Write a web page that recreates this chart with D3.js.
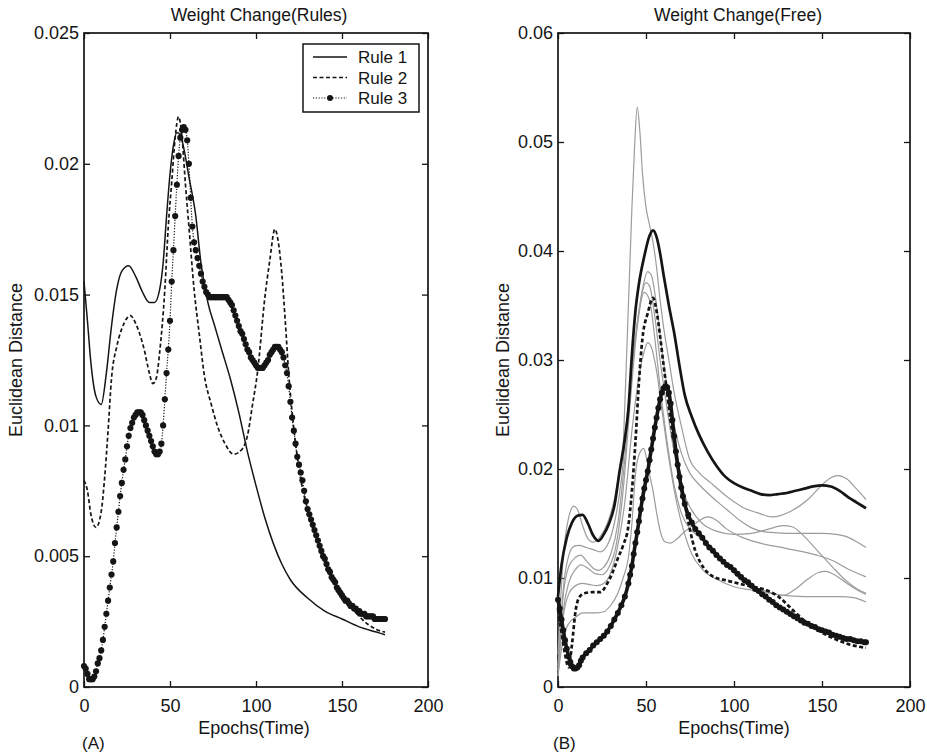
<!DOCTYPE html>
<html>
<head>
<meta charset="utf-8">
<script src="https://cdn.jsdelivr.net/npm/d3@7"></script>
<style>
  html, body { margin: 0; padding: 0; background: #ffffff; }
  svg { display: block; }
  text { font-family: "Liberation Sans", Arial, Helvetica, sans-serif; fill: #151515; }
</style>
</head>
<body>
<svg id="chart" width="927" height="753"></svg>
<script>
// ---------------- DATA ----------------
const xTicks = [0, 50, 100, 150, 200];
const xTickLabels = ["0", "50", "100", "150", "200"];
const leftYTicks = [0, 0.005, 0.01, 0.015, 0.02, 0.025];
const leftYTickLabels = ["0", "0.005", "0.01", "0.015", "0.02", "0.025"];
const rightYTicks = [0, 0.01, 0.02, 0.03, 0.04, 0.05, 0.06];
const rightYTickLabels = ["0", "0.01", "0.02", "0.03", "0.04", "0.05", "0.06"];
const legendLabels = ["Rule 1", "Rule 2", "Rule 3"];

// Panel A : [epoch, euclidean distance]
const rule1 = [[0,0.0155],[2,0.0140],[4,0.0124],[7,0.0111],[10,0.0108],[13,0.0120],[16,0.0138],[19,0.0152],[22,0.0159],[26,0.0161],[30,0.0157],[34,0.0151],[38,0.0147],[41,0.0147],[44,0.0152],[46,0.0162],[48,0.0180],[50,0.0196],[52,0.0207],[54,0.0212],[56,0.0211],[58,0.0206],[61,0.0195],[65,0.0180],[68,0.0162],[72,0.0147],[76,0.0138],[80,0.0129],[85,0.0118],[90,0.0105],[95,0.0090],[100,0.0077],[105,0.0065],[110,0.0055],[115,0.0047],[120,0.0041],[130,0.0034],[140,0.0029],[150,0.0026],[160,0.0023],[170,0.0021],[175,0.0020]];

const rule2 = [[0,0.0079],[2,0.0075],[4,0.0066],[7,0.0061],[10,0.0067],[12,0.0080],[14,0.0098],[16,0.0118],[19,0.0130],[22,0.0137],[25,0.0141],[27,0.0142],[30,0.0139],[35,0.0129],[38,0.0120],[40,0.0116],[42,0.0118],[44,0.0128],[47,0.0152],[49,0.0176],[51,0.0193],[53,0.0210],[55,0.0218],[57,0.0210],[59,0.0192],[61,0.0176],[64,0.0152],[67,0.0135],[70,0.0119],[74,0.0108],[78,0.0099],[82,0.0093],[87,0.0089],[92,0.0091],[95,0.0096],[98,0.0108],[101,0.0121],[105,0.0148],[108,0.0163],[111,0.0175],[113,0.0170],[115,0.0158],[117,0.0140],[119,0.0120],[121,0.0105],[124,0.0088],[127,0.0076],[130,0.0068],[135,0.0057],[140,0.0048],[145,0.0041],[150,0.0035],[155,0.0031],[160,0.0027],[165,0.0024],[170,0.0022],[175,0.0021]];

const rule3 = [[0,0.0008],[1,0.0007],[2,0.0005],[3,0.0003],[4,0.0003],[5,0.0003],[6,0.0004],[7,0.0006],[8,0.0009],[9,0.0011],[10,0.0014],[11,0.0018],[12,0.0023],[13,0.0028],[14,0.0033],[15,0.0038],[16,0.0043],[17,0.0048],[18,0.0055],[19,0.0061],[20,0.0067],[21,0.0073],[22,0.0078],[23,0.0083],[24,0.0087],[25,0.0092],[26,0.0096],[27,0.0099],[28,0.0101],[29,0.0103],[30,0.0104],[31,0.0105],[32,0.0105],[33,0.0105],[34,0.0104],[35,0.0102],[36,0.0100],[37,0.0098],[38,0.0096],[39,0.0094],[40,0.0092],[41,0.0090],[42,0.0089],[43,0.0089],[44,0.0090],[45,0.0093],[46,0.0100],[47,0.0110],[48,0.0120],[49,0.0129],[50,0.0140],[51,0.0155],[52,0.0167],[53,0.0180],[54,0.0192],[55,0.0203],[56,0.0210],[57,0.0213],[58,0.0214],[59,0.0213],[60,0.0209],[61,0.0200],[62,0.0187],[63,0.0176],[64,0.0170],[65,0.0167],[66,0.0164],[67,0.0161],[68,0.0158],[69,0.0155],[70,0.0153],[71,0.0151],[72,0.0150],[73,0.0149],[74,0.0149],[75,0.0149],[76,0.0149],[77,0.0149],[78,0.0149],[79,0.0149],[80,0.0149],[81,0.0149],[82,0.0149],[83,0.0149],[84,0.0148],[85,0.0147],[86,0.0146],[87,0.0144],[88,0.0142],[89,0.0140],[90,0.0138],[91,0.0136],[92,0.0135],[93,0.0133],[94,0.0131],[95,0.0129],[96,0.0128],[97,0.0126],[98,0.0125],[99,0.0124],[100,0.0123],[101,0.0122],[102,0.0122],[103,0.0122],[104,0.0122],[105,0.0123],[106,0.0124],[107,0.0125],[108,0.0127],[109,0.0128],[110,0.0129],[111,0.0130],[112,0.0130],[113,0.0130],[114,0.0129],[115,0.0128],[116,0.0126],[117,0.0123],[118,0.0120],[119,0.0115],[120,0.0109],[121,0.0103],[122,0.0098],[123,0.0093],[124,0.0088],[125,0.0085],[126,0.0082],[127,0.0079],[128,0.0075],[129,0.0071],[130,0.0068],[131,0.0066],[132,0.0064],[133,0.0062],[134,0.0060],[135,0.0058],[136,0.0056],[137,0.0054],[138,0.0052],[139,0.0050],[140,0.0049],[141,0.0047],[142,0.0045],[143,0.0044],[144,0.0042],[145,0.0041],[146,0.0040],[147,0.0038],[148,0.0037],[149,0.0036],[150,0.0035],[151,0.0034],[152,0.0033],[153,0.0033],[154,0.0032],[155,0.0031],[156,0.0031],[157,0.0030],[158,0.0030],[159,0.0029],[160,0.0029],[161,0.0028],[162,0.0028],[163,0.0028],[164,0.0027],[165,0.0027],[166,0.0027],[167,0.0027],[168,0.0027],[169,0.0026],[170,0.0026],[171,0.0026],[172,0.0026],[173,0.0026],[174,0.0026],[175,0.0026]];

// Panel B : thick highlighted runs
const freeSolid = [[0,0.0083],[2,0.0112],[5,0.0137],[8,0.0151],[11,0.0157],[14,0.0158],[17,0.0150],[20,0.0139],[23,0.0134],[26,0.0140],[29,0.0150],[32,0.0166],[35,0.0198],[38,0.0228],[40,0.0255],[42,0.0305],[44,0.0345],[46,0.0370],[49,0.0395],[52,0.0414],[54,0.0419],[56,0.0413],[58,0.0398],[60,0.0378],[63,0.0350],[66,0.0325],[69,0.0295],[72,0.0268],[76,0.0248],[80,0.0232],[85,0.0216],[90,0.0203],[95,0.0193],[100,0.0187],[105,0.0183],[110,0.0180],[115,0.0177],[120,0.0176],[125,0.0177],[130,0.0178],[135,0.0180],[140,0.0182],[145,0.0184],[150,0.0185],[155,0.0184],[160,0.0180],[165,0.0174],[170,0.0169],[175,0.0164]];

const freeDashed = [[0,0.0071],[2,0.0050],[4,0.0030],[6,0.0018],[8,0.0040],[10,0.0070],[12,0.0082],[15,0.0086],[20,0.0087],[24,0.0087],[28,0.0095],[31,0.0105],[34,0.0118],[37,0.0130],[40,0.0148],[42,0.0180],[44,0.0225],[46,0.0280],[48,0.0320],[51,0.0343],[54,0.0357],[56,0.0345],[58,0.0322],[60,0.0295],[62,0.0270],[64,0.0244],[66,0.0225],[68,0.0205],[70,0.0187],[73,0.0160],[75,0.0144],[78,0.0125],[81,0.0114],[85,0.0105],[90,0.0100],[95,0.0098],[100,0.0096],[105,0.0094],[111,0.0092],[116,0.0090],[121,0.0087],[126,0.0082],[130,0.0076],[135,0.0068],[140,0.0061],[145,0.0055],[150,0.0050],[156,0.0045],[162,0.0041],[168,0.0038],[175,0.0036]];

const freeDotted = [[0,0.0080],[1,0.0072],[2,0.0062],[3,0.0052],[4,0.0043],[5,0.0035],[6,0.0028],[7,0.0023],[8,0.0019],[9,0.0017],[10,0.0017],[11,0.0018],[12,0.0020],[13,0.0024],[14,0.0027],[16,0.0031],[18,0.0034],[20,0.0038],[22,0.0041],[24,0.0044],[26,0.0047],[28,0.0051],[30,0.0056],[32,0.0062],[34,0.0068],[36,0.0075],[38,0.0083],[40,0.0095],[41,0.0103],[42,0.0111],[43,0.0122],[44,0.0132],[45,0.0142],[46,0.0152],[47,0.0163],[48,0.0173],[49,0.0182],[50,0.0190],[51,0.0198],[52,0.0208],[53,0.0218],[54,0.0228],[55,0.0238],[56,0.0247],[57,0.0256],[58,0.0264],[59,0.0270],[60,0.0274],[61,0.0276],[62,0.0275],[63,0.0270],[64,0.0260],[65,0.0245],[66,0.0230],[67,0.0216],[68,0.0204],[69,0.0193],[70,0.0183],[71,0.0175],[72,0.0168],[74,0.0158],[76,0.0151],[78,0.0145],[80,0.0141],[82,0.0137],[84,0.0132],[86,0.0128],[88,0.0125],[90,0.0121],[92,0.0118],[94,0.0115],[96,0.0112],[98,0.0110],[100,0.0107],[102,0.0104],[104,0.0101],[106,0.0098],[108,0.0096],[110,0.0093],[112,0.0090],[114,0.0088],[116,0.0085],[118,0.0083],[120,0.0080],[122,0.0078],[124,0.0075],[126,0.0073],[128,0.0071],[130,0.0069],[132,0.0067],[134,0.0065],[136,0.0063],[138,0.0061],[140,0.0059],[142,0.0058],[144,0.0056],[146,0.0055],[148,0.0053],[150,0.0052],[152,0.0051],[154,0.0050],[156,0.0048],[158,0.0047],[160,0.0046],[162,0.0045],[164,0.0044],[166,0.0044],[168,0.0043],[170,0.0042],[172,0.0042],[174,0.0041],[175,0.0041]];

// Panel B : thin grey runs
const freeGreyA = [[0,0.0030],[3,0.0120],[6,0.0155],[9,0.0166],[11,0.0163],[14,0.0148],[17,0.0136],[20,0.0133],[24,0.0138],[28,0.0150],[32,0.0172],[35,0.0200],[37,0.0222],[38,0.0260],[40,0.0350],[42,0.0440],[43.5,0.0495],[45,0.0532],[46.5,0.0510],[48,0.0471],[50,0.0440],[52,0.0424],[54,0.0408],[56,0.0385],[58,0.0355],[60,0.0330],[63,0.0300],[66,0.0270],[70,0.0240],[75,0.0208],[80,0.0197],[87,0.0187],[95,0.0176],[100,0.0170],[106,0.0164],[113,0.0160],[122,0.0156],[132,0.0161],[142,0.0172],[151,0.0187],[155,0.0192],[159,0.0194],[164,0.0191],[170,0.0181],[175,0.0172]];
const freeGreyB = [[0,0.0015],[3,0.0090],[6,0.0120],[9,0.0129],[12,0.0130],[16,0.0128],[20,0.0126],[24,0.0124],[28,0.0130],[32,0.0150],[36,0.0190],[40,0.0260],[44,0.0320],[48,0.0365],[51,0.0381],[53,0.0378],[56,0.0350],[59,0.0310],[62,0.0275],[66,0.0240],[70,0.0215],[75,0.0196],[80,0.0186],[85,0.0178],[92,0.0168],[98,0.0160],[104,0.0152],[110,0.0146],[119,0.0142],[130,0.0141],[140,0.0141],[150,0.0141],[158,0.0140],[164,0.0138],[170,0.0133],[175,0.0128]];
const freeGreyC = [[0,0.0020],[3,0.0085],[6,0.0110],[10,0.0119],[13,0.0121],[16,0.0116],[20,0.0109],[23,0.0107],[26,0.0110],[30,0.0122],[34,0.0150],[38,0.0210],[42,0.0290],[46,0.0345],[50,0.0371],[52,0.0368],[55,0.0340],[58,0.0300],[62,0.0255],[66,0.0215],[70,0.0185],[75,0.0165],[82,0.0150],[90,0.0143],[100,0.0140],[110,0.0141],[120,0.0145],[128,0.0148],[133,0.0147],[140,0.0138],[148,0.0124],[156,0.0110],[164,0.0097],[170,0.0090],[175,0.0086]];
const freeGreyD = [[0,0.0010],[3,0.0070],[6,0.0095],[10,0.0108],[13,0.0112],[17,0.0109],[21,0.0104],[25,0.0103],[29,0.0110],[33,0.0130],[37,0.0180],[41,0.0260],[45,0.0330],[49,0.0362],[52,0.0355],[55,0.0320],[58,0.0275],[62,0.0225],[66,0.0185],[70,0.0160],[75,0.0145],[80,0.0138],[86,0.0130],[92,0.0120],[98,0.0108],[104,0.0098],[110,0.0092],[118,0.0088],[128,0.0084],[135,0.0090],[142,0.0099],[148,0.0105],[152,0.0106],[158,0.0102],[165,0.0094],[170,0.0089],[175,0.0085]];
const freeGreyE = [[0,0.0015],[3,0.0065],[6,0.0085],[10,0.0093],[14,0.0095],[18,0.0094],[22,0.0093],[26,0.0095],[30,0.0105],[34,0.0130],[38,0.0170],[42,0.0235],[46,0.0285],[49,0.0308],[51,0.0316],[53,0.0312],[56,0.0290],[59,0.0255],[62,0.0220],[65,0.0190],[68,0.0165],[72,0.0140],[76,0.0122],[82,0.0108],[90,0.0099],[100,0.0092],[110,0.0089],[120,0.0086],[128,0.0084],[140,0.0083],[150,0.0083],[160,0.0083],[168,0.0082],[175,0.0078]];
const freeGreyF = [[0,0.0010],[3,0.0045],[6,0.0058],[10,0.0064],[14,0.0068],[18,0.0068],[22,0.0068],[26,0.0069],[30,0.0075],[34,0.0086],[37,0.0100],[40,0.0119],[42,0.0150],[44,0.0195],[46,0.0213],[48.7,0.0219],[50,0.0212],[52,0.0195],[54,0.0180],[56,0.0160],[58.4,0.0141],[61,0.0133],[64,0.0132],[67,0.0135],[71,0.0141],[78,0.0150],[85,0.0156],[90,0.0153],[95,0.0146],[105,0.0137],[115,0.0132],[130,0.0127],[147,0.0121],[156,0.0116],[165,0.0108],[175,0.0101]];

// ---------------- DRAWING ----------------
const svg = d3.select("#chart");
const FONT = 18;
const INK = "#151515";

function panel(cfg) {
  const g = svg.append("g");
  const x = d3.scaleLinear().domain([0, 200]).range([cfg.left, cfg.right]);
  const y = d3.scaleLinear().domain([0, cfg.ymax]).range([cfg.bottom, cfg.top]);
  const tick = 6;

  const bottom = g.append("g").attr("transform", `translate(0,${cfg.bottom})`)
    .call(d3.axisBottom(x).tickValues(xTicks).tickFormat((d, i) => xTickLabels[i]).tickSize(-tick).tickSizeOuter(0).tickPadding(12));
  const top = g.append("g").attr("transform", `translate(0,${cfg.top})`)
    .call(d3.axisTop(x).tickValues(xTicks).tickFormat("").tickSize(-tick).tickSizeOuter(0));
  const left = g.append("g").attr("transform", `translate(${cfg.left},0)`)
    .call(d3.axisLeft(y).tickValues(cfg.yTicks).tickFormat((d, i) => cfg.yLabels[i]).tickSize(-tick).tickSizeOuter(0).tickPadding(5));
  const right = g.append("g").attr("transform", `translate(${cfg.right},0)`)
    .call(d3.axisRight(y).tickValues(cfg.yTicks).tickFormat("").tickSize(-tick).tickSizeOuter(0));
  [bottom, top, left, right].forEach(a => {
    a.select(".domain").remove();
    a.selectAll(".tick line").attr("stroke", INK).attr("stroke-width", 1.3);
    a.selectAll(".tick text").attr("font-size", FONT).attr("fill", INK)
      .style("font-family", '"Liberation Sans", Arial, sans-serif');
  });

  g.append("rect").attr("x", cfg.left).attr("y", cfg.top)
    .attr("width", cfg.right - cfg.left).attr("height", cfg.bottom - cfg.top)
    .attr("fill", "none").attr("stroke", INK).attr("stroke-width", 1.7);

  g.append("text").attr("x", cfg.titleX).attr("y", 21).attr("text-anchor", "middle")
    .attr("font-size", 17.5).text(cfg.title);
  g.append("text").attr("transform", `translate(${cfg.ylabX},360) rotate(-90)`)
    .attr("text-anchor", "middle").attr("font-size", FONT).text("Euclidean Distance");
  g.append("text").attr("x", cfg.xlabX).attr("y", 734).attr("text-anchor", "middle")
    .attr("font-size", FONT).text("Epochs(Time)");
  g.append("text").attr("x", cfg.tagX).attr("y", 749).attr("font-size", 17).text(cfg.tag);

  const line = d3.line().x(d => x(d[0])).y(d => y(d[1])).curve(d3.curveMonotoneX);
  return { g, x, y, line };
}

// ---- Panel A ----
const A = panel({ left: 84, right: 428, top: 33, bottom: 687, ymax: 0.025,
  yTicks: leftYTicks, yLabels: leftYTickLabels, title: "Weight Change(Rules)", titleX: 259,
  ylabX: 22, xlabX: 254, tag: "(A)", tagX: 82 });

A.g.append("path").datum(rule1).attr("d", A.line)
  .attr("fill", "none").attr("stroke", INK).attr("stroke-width", 1.5);
A.g.append("path").datum(rule2).attr("d", A.line)
  .attr("fill", "none").attr("stroke", INK).attr("stroke-width", 1.7).attr("stroke-dasharray", "4,2.5");
A.g.append("path").datum(rule3).attr("d", A.line)
  .attr("fill", "none").attr("stroke", INK).attr("stroke-width", 1.2).attr("stroke-dasharray", "1.2,1.6");
A.g.append("g").selectAll("circle").data(rule3).join("circle")
  .attr("cx", d => A.x(d[0])).attr("cy", d => A.y(d[1])).attr("r", 3.1).attr("fill", INK);

// legend
const lg = A.g.append("g");
lg.append("rect").attr("x", 303).attr("y", 44).attr("width", 116).attr("height", 68)
  .attr("fill", "#fff").attr("stroke", INK).attr("stroke-width", 1.5);
const legendStyles = [
  { dash: null, w: 1.5, marker: false },
  { dash: "4,2.5", w: 1.7, marker: false },
  { dash: "1.2,1.6", w: 1.2, marker: true }
];
legendLabels.forEach((lab, i) => {
  const yy = 57 + i * 20.5;
  const s = legendStyles[i];
  const l = lg.append("line").attr("x1", 313).attr("x2", 347).attr("y1", yy).attr("y2", yy)
    .attr("stroke", INK).attr("stroke-width", s.w);
  if (s.dash) l.attr("stroke-dasharray", s.dash);
  if (s.marker) lg.append("circle").attr("cx", 330).attr("cy", yy).attr("r", 3).attr("fill", INK);
  lg.append("text").attr("x", 358).attr("y", yy + 6).attr("font-size", 17).text(lab);
});

// ---- Panel B ----
const B = panel({ left: 558, right: 910, top: 33, bottom: 687, ymax: 0.06,
  yTicks: rightYTicks, yLabels: rightYTickLabels, title: "Weight Change(Free)", titleX: 738,
  ylabX: 509, xlabX: 734, tag: "(B)", tagX: 553 });

[freeGreyA, freeGreyB, freeGreyC, freeGreyD, freeGreyE, freeGreyF].forEach(s => {
  B.g.append("path").datum(s).attr("d", B.line)
    .attr("fill", "none").attr("stroke", "#9c9c9c").attr("stroke-width", 1.2);
});
B.g.append("path").datum(freeSolid).attr("d", B.line)
  .attr("fill", "none").attr("stroke", INK).attr("stroke-width", 2.7);
B.g.append("path").datum(freeDashed).attr("d", B.line)
  .attr("fill", "none").attr("stroke", INK).attr("stroke-width", 2.7).attr("stroke-dasharray", "4,2.5");
B.g.append("path").datum(freeDotted).attr("d", B.line)
  .attr("fill", "none").attr("stroke", INK).attr("stroke-width", 3.6);
B.g.append("g").selectAll("circle").data(freeDotted).join("circle")
  .attr("cx", d => B.x(d[0])).attr("cy", d => B.y(d[1])).attr("r", 3).attr("fill", INK);
</script>
</body>
</html>
